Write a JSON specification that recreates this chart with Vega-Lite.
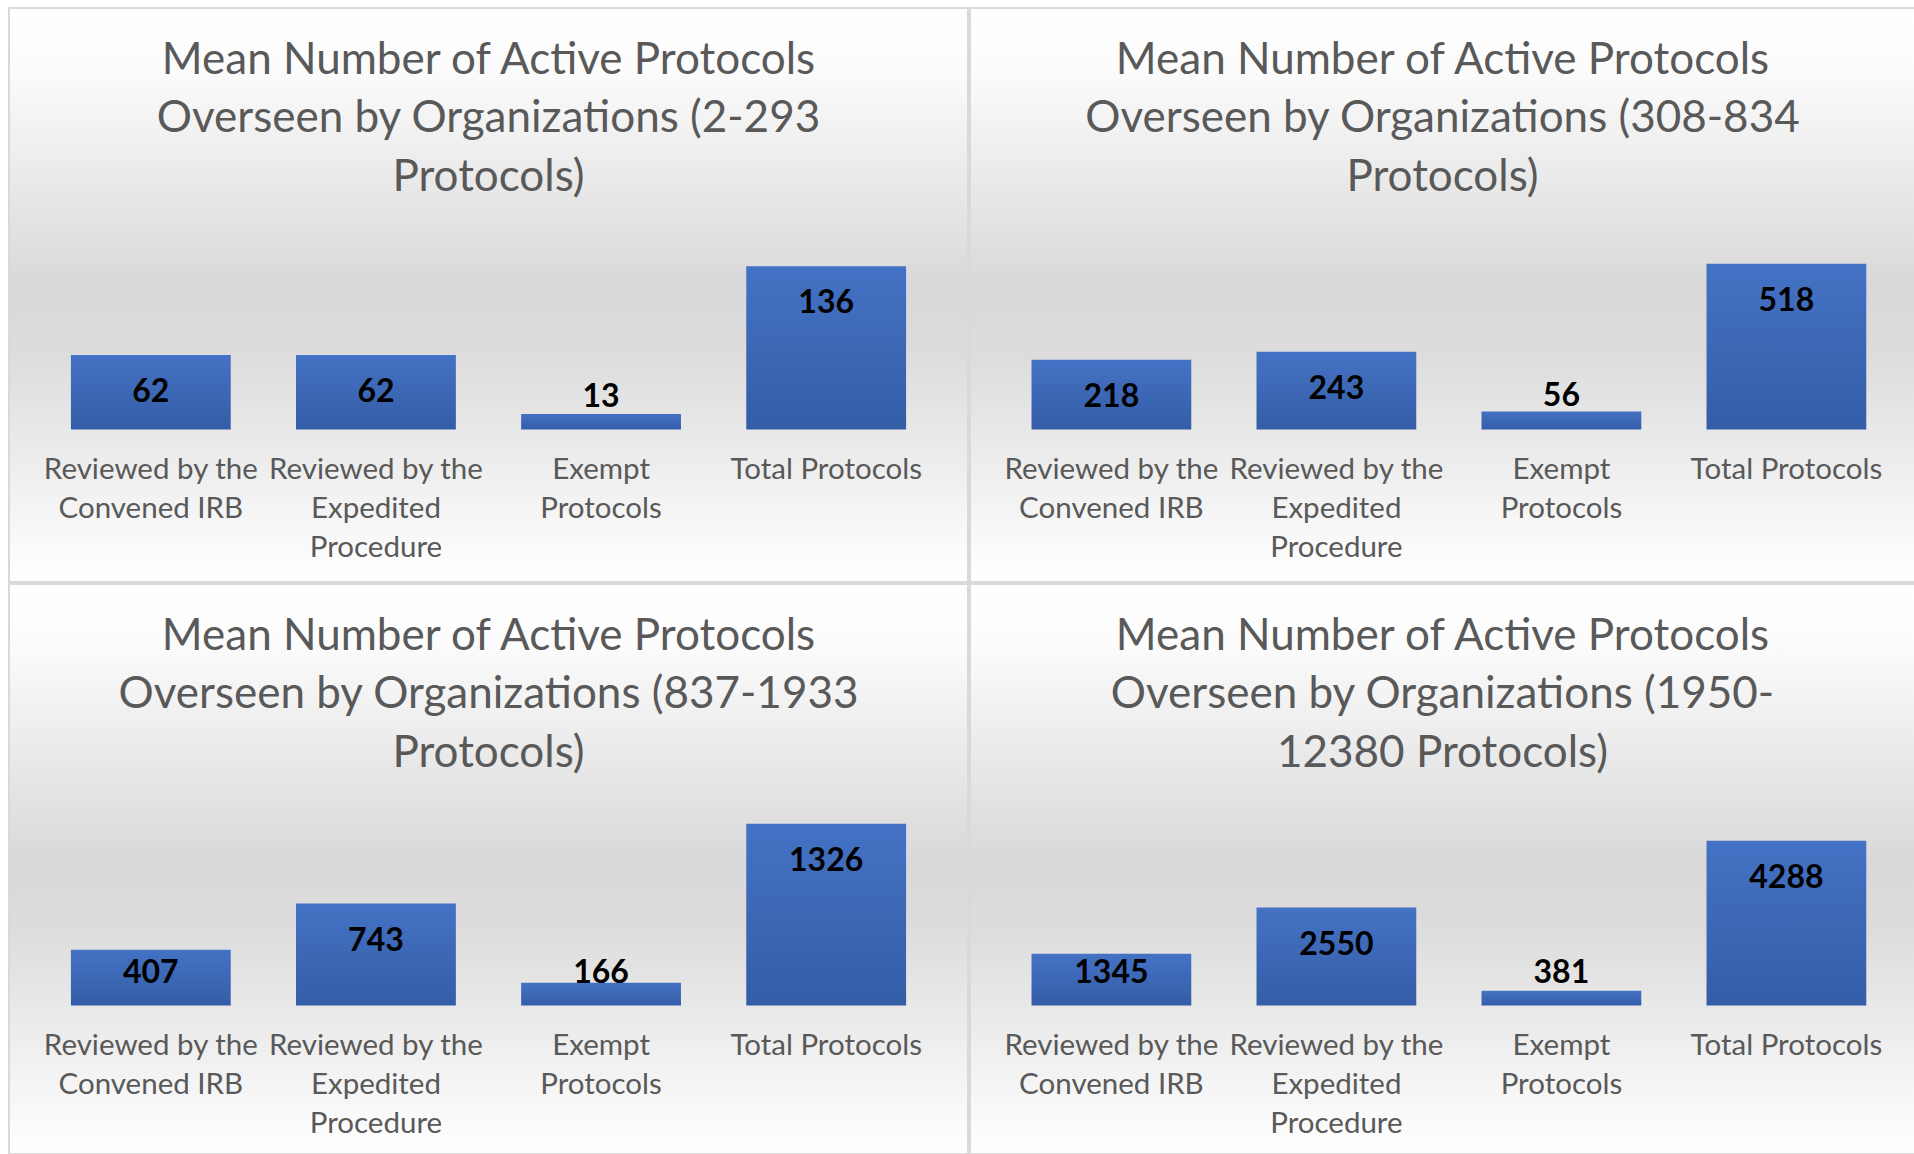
{
  "$schema": "https://vega.github.io/schema/vega-lite/v6.json",
  "padding": {"left": 8, "top": 7, "right": 0, "bottom": 0},
  "background": "white",
  "columns": 2,
  "spacing": 0,
  "data": {
    "values": [
      {"panel": 1, "category": "Reviewed by the Convened IRB", "value": 62},
      {"panel": 1, "category": "Reviewed by the Expedited Procedure", "value": 62},
      {"panel": 1, "category": "Exempt Protocols", "value": 13},
      {"panel": 1, "category": "Total Protocols", "value": 136},
      {"panel": 2, "category": "Reviewed by the Convened IRB", "value": 218},
      {"panel": 2, "category": "Reviewed by the Expedited Procedure", "value": 243},
      {"panel": 2, "category": "Exempt Protocols", "value": 56},
      {"panel": 2, "category": "Total Protocols", "value": 518},
      {"panel": 3, "category": "Reviewed by the Convened IRB", "value": 407},
      {"panel": 3, "category": "Reviewed by the Expedited Procedure", "value": 743},
      {"panel": 3, "category": "Exempt Protocols", "value": 166},
      {"panel": 3, "category": "Total Protocols", "value": 1326},
      {"panel": 4, "category": "Reviewed by the Convened IRB", "value": 1345},
      {"panel": 4, "category": "Reviewed by the Expedited Procedure", "value": 2550},
      {"panel": 4, "category": "Exempt Protocols", "value": 381},
      {"panel": 4, "category": "Total Protocols", "value": 4288}
    ]
  },
  "concat": [
    {
      "width": 959, "height": 574,
      "title": {"text": ["Mean Number of Active Protocols", "Overseen by Organizations (2-293", "Protocols)"]},
      "transform": [{"filter": "datum.panel == 1"}],
      "encoding": {
        "x": {"field": "category", "type": "nominal", "sort": null,
          "scale": {"paddingInner": 0.29, "paddingOuter": 0.275},
          "axis": {"offset": -152.5}}
      },
      "layer": [
        {"mark": {"type": "bar", "fill": {"gradient": "linear", "x1": 0, "y1": 0, "x2": 0, "y2": 1, "stops": [{"offset": 0, "color": "#4472c4"}, {"offset": 1, "color": "#345da7"}]}},
         "encoding": {"y": {"field": "value", "type": "quantitative", "scale": {"domain": [-127.08, 351.25], "nice": false, "zero": false}, "axis": null}, "y2": {"datum": 0}}},
        {"transform": [{"filter": "datum.value >= 58"}],
         "mark": {"type": "text", "dy": 37, "baseline": "middle", "fontWeight": "bold", "fontSize": 32, "color": "#000000"},
         "encoding": {"y": {"field": "value", "type": "quantitative"}, "text": {"field": "value", "type": "quantitative"}}},
        {"transform": [{"filter": "datum.value < 58"}],
         "mark": {"type": "text", "dy": -33, "baseline": "middle", "fontWeight": "bold", "fontSize": 32, "color": "#000000"},
         "encoding": {"y": {"datum": 0, "type": "quantitative"}, "text": {"field": "value", "type": "quantitative"}}}
      ]
    },
    {
      "width": 945, "height": 574,
      "title": {"text": ["Mean Number of Active Protocols", "Overseen by Organizations (308-834", "Protocols)"]},
      "transform": [{"filter": "datum.panel == 2"}],
      "encoding": {
        "x": {"field": "category", "type": "nominal", "sort": null,
          "scale": {"paddingInner": 0.29, "paddingOuter": 0.245, "align": 0.558},
          "axis": {"offset": -152.5}}
      },
      "layer": [
        {"mark": {"type": "bar", "fill": {"gradient": "linear", "x1": 0, "y1": 0, "x2": 0, "y2": 1, "stops": [{"offset": 0, "color": "#4472c4"}, {"offset": 1, "color": "#345da7"}]}},
         "encoding": {"y": {"field": "value", "type": "quantitative", "scale": {"domain": [-476.6, 1317.2], "nice": false, "zero": false}, "axis": null}, "y2": {"datum": 0}}},
        {"transform": [{"filter": "datum.value >= 217"}],
         "mark": {"type": "text", "dy": 37, "baseline": "middle", "fontWeight": "bold", "fontSize": 32, "color": "#000000"},
         "encoding": {"y": {"field": "value", "type": "quantitative"}, "text": {"field": "value", "type": "quantitative"}}},
        {"transform": [{"filter": "datum.value < 217"}],
         "mark": {"type": "text", "dy": -33, "baseline": "middle", "fontWeight": "bold", "fontSize": 32, "color": "#000000"},
         "encoding": {"y": {"datum": 0, "type": "quantitative"}, "text": {"field": "value", "type": "quantitative"}}}
      ]
    },
    {
      "width": 959, "height": 570,
      "title": {"text": ["Mean Number of Active Protocols", "Overseen by Organizations (837-1933", "Protocols)"]},
      "transform": [{"filter": "datum.panel == 3"}],
      "encoding": {
        "x": {"field": "category", "type": "nominal", "sort": null,
          "scale": {"paddingInner": 0.29, "paddingOuter": 0.275},
          "axis": {"offset": -148.5}}
      },
      "layer": [
        {"mark": {"type": "bar", "fill": {"gradient": "linear", "x1": 0, "y1": 0, "x2": 0, "y2": 1, "stops": [{"offset": 0, "color": "#4472c4"}, {"offset": 1, "color": "#345da7"}]}},
         "encoding": {"y": {"field": "value", "type": "quantitative", "scale": {"domain": [-1082.8, 3073.5], "nice": false, "zero": false}, "axis": null}, "y2": {"datum": 0}}},
        {"transform": [{"filter": "datum.value >= 508"}],
         "mark": {"type": "text", "dy": 37, "baseline": "middle", "fontWeight": "bold", "fontSize": 32, "color": "#000000"},
         "encoding": {"y": {"field": "value", "type": "quantitative"}, "text": {"field": "value", "type": "quantitative"}}},
        {"transform": [{"filter": "datum.value < 508"}],
         "mark": {"type": "text", "dy": -33, "baseline": "middle", "fontWeight": "bold", "fontSize": 32, "color": "#000000"},
         "encoding": {"y": {"datum": 0, "type": "quantitative"}, "text": {"field": "value", "type": "quantitative"}}}
      ]
    },
    {
      "width": 945, "height": 570,
      "title": {"text": ["Mean Number of Active Protocols", "Overseen by Organizations (1950-", "12380 Protocols)"]},
      "transform": [{"filter": "datum.panel == 4"}],
      "encoding": {
        "x": {"field": "category", "type": "nominal", "sort": null,
          "scale": {"paddingInner": 0.29, "paddingOuter": 0.245, "align": 0.558},
          "axis": {"offset": -148.5}}
      },
      "layer": [
        {"mark": {"type": "bar", "fill": {"gradient": "linear", "x1": 0, "y1": 0, "x2": 0, "y2": 1, "stops": [{"offset": 0, "color": "#4472c4"}, {"offset": 1, "color": "#345da7"}]}},
         "encoding": {"y": {"field": "value", "type": "quantitative", "scale": {"domain": [-3867.2, 10976.6], "nice": false, "zero": false}, "axis": null}, "y2": {"datum": 0}}},
        {"transform": [{"filter": "datum.value >= 1812"}],
         "mark": {"type": "text", "dy": 37, "baseline": "middle", "fontWeight": "bold", "fontSize": 32, "color": "#000000"},
         "encoding": {"y": {"field": "value", "type": "quantitative"}, "text": {"field": "value", "type": "quantitative"}}},
        {"transform": [{"filter": "datum.value < 1812"}],
         "mark": {"type": "text", "dy": -33, "baseline": "middle", "fontWeight": "bold", "fontSize": 32, "color": "#000000"},
         "encoding": {"y": {"datum": 0, "type": "quantitative"}, "text": {"field": "value", "type": "quantitative"}}}
      ]
    }
  ],
  "config": {
    "font": "Lato",
    "view": {
      "fill": {"gradient": "linear", "x1": 0, "y1": 0, "x2": 0, "y2": 1, "stops": [{"offset": 0, "color": "#ffffff"}, {"offset": 0.1, "color": "#fcfcfc"}, {"offset": 0.48, "color": "#d9d9d9"}, {"offset": 0.6, "color": "#dcdcdc"}, {"offset": 0.95, "color": "#fbfbfb"}, {"offset": 1, "color": "#ffffff"}]},
      "stroke": "#d9d9d9",
      "strokeWidth": 2
    },
    "title": {"fontSize": 44, "fontWeight": "normal", "color": "#595959", "lineHeight": 58.6, "anchor": "middle", "baseline": "bottom", "offset": -192},
    "axisX": {
      "title": null, "domain": false, "ticks": false, "tickSize": 0, "grid": false,
      "labelAngle": 0, "labelFontSize": 29.5, "labelColor": "#595959", "labelPadding": 26,
      "labelBaseline": "top", "labelLimit": 400, "labelOverlap": false, "labelLineHeight": 39,
      "labelExpr": "datum.label == 'Reviewed by the Convened IRB' ? ['Reviewed by the', 'Convened IRB'] : datum.label == 'Reviewed by the Expedited Procedure' ? ['Reviewed by the', 'Expedited', 'Procedure'] : datum.label == 'Exempt Protocols' ? ['Exempt', 'Protocols'] : datum.label"
    }
  }
}
